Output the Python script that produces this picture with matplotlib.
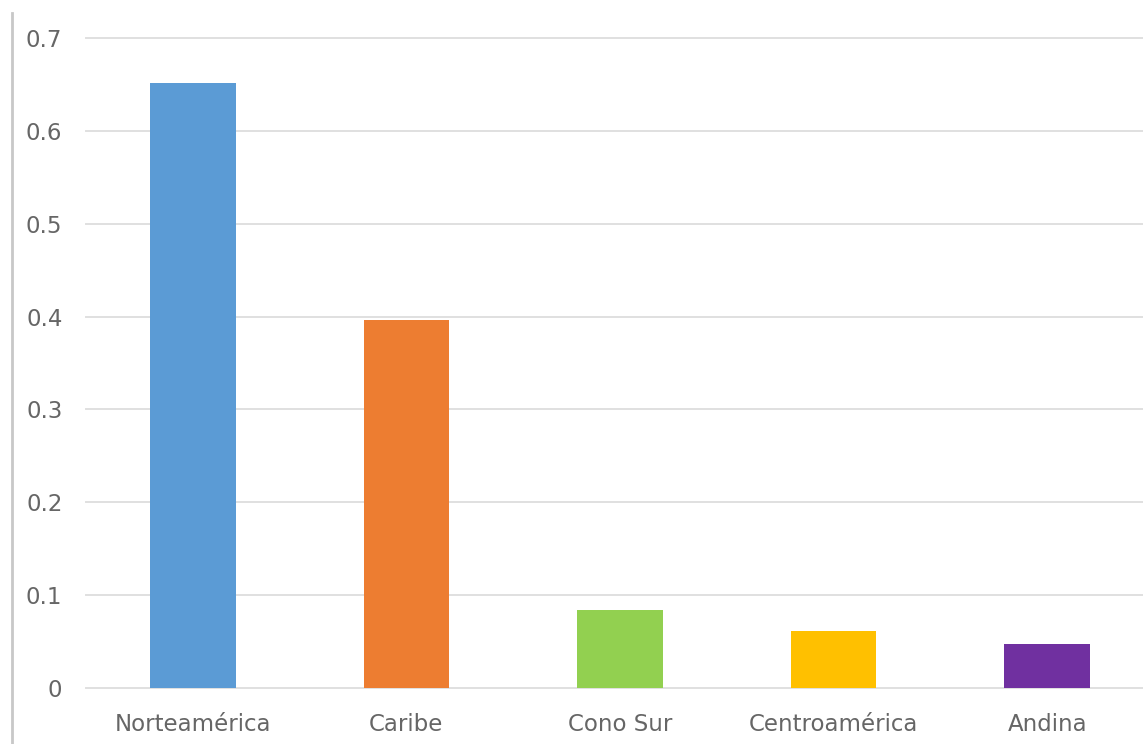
import matplotlib.pyplot as plt
from matplotlib.lines import Line2D

regions = ["Norteamérica", "Caribe", "Cono Sur", "Centroamérica", "Andina"]
values = [0.652, 0.396, 0.084, 0.0615, 0.0475]
colors = ["#5B9BD5", "#ED7D31", "#92D050", "#FFC000", "#7030A0"]
yticks = [0, 0.1, 0.2, 0.3, 0.4, 0.5, 0.6, 0.7]

fig = plt.figure(figsize=(11.43, 7.44), dpi=100)
ax = fig.add_axes([86 / 1143, 56 / 744, 1068 / 1143, 650 / 744])

ax.bar(range(len(regions)), values, width=0.4, color=colors, zorder=3)

ax.set_xlim(-0.5, len(regions) - 0.5)
ax.set_ylim(0, 0.7)
ax.set_yticks(yticks)
ax.set_yticklabels(["0" if t == 0 else f"{t:.1f}" for t in yticks])
ax.set_xticks(range(len(regions)))
ax.set_xticklabels(regions)

ax.grid(axis="y", color="#E0E0E0", linewidth=1.4, zorder=0)
for gl in ax.get_ygridlines():
    gl.set_clip_on(False)
ax.set_axisbelow(True)
for s in ax.spines.values():
    s.set_visible(False)
ax.tick_params(axis="both", length=0, labelsize=16.5, labelcolor="#666666")
ax.tick_params(axis="y", pad=17)
ax.tick_params(axis="x", pad=18)

# chart frame edge on the left
fig.add_artist(Line2D([12 / 1143, 12 / 1143], [0, 731 / 744],
                      transform=fig.transFigure, color="#C8C8C8", linewidth=2))

fig.savefig("out.png", dpi=100)
